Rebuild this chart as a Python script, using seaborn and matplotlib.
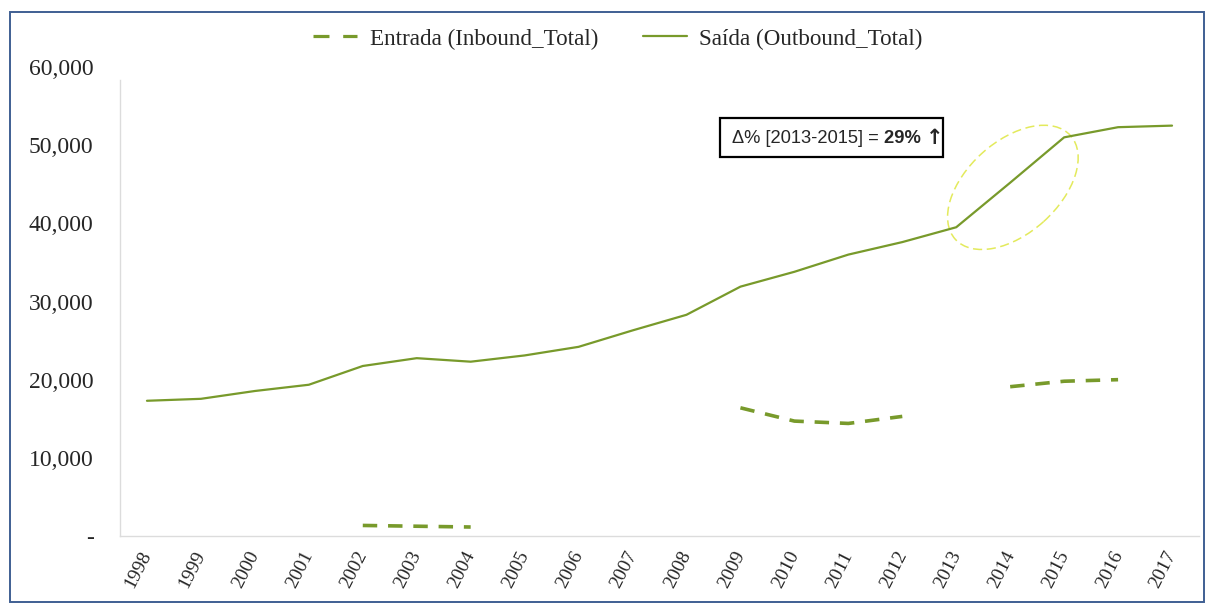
import numpy as np
import pandas as pd
import matplotlib
matplotlib.use("Agg")
import matplotlib.pyplot as plt
import matplotlib.transforms as mtransforms
from matplotlib.patches import Ellipse, Rectangle
from matplotlib.lines import Line2D
import seaborn as sns

years = list(range(1998, 2018))
outbound = [17300, 17550, 18550, 19350, 21750, 22750, 22300, 23100, 24200, 26300,
            28300, 31900, 33800, 36000, 37600, 39500, 45200, 51000, 52300, 52500]
inbound = [np.nan, np.nan, np.nan, np.nan, 1350, 1250, 1150, np.nan, np.nan, np.nan,
           np.nan, 16400, 14700, 14400, 15300, np.nan, 19100, 19800, 20000, np.nan]
yticks = [0, 10000, 20000, 30000, 40000, 50000, 60000]
label_in = "Entrada (Inbound_Total)"
label_out = "Saída (Outbound_Total)"
note_plain = "Δ% [2013-2015] = "
note_bold = "29% "
note_arrow = "↑"

GREEN = "#789a2b"

sns.set_theme(style="white")
plt.rcParams["font.family"] = ["Liberation Serif", "DejaVu Serif"]

fig = plt.figure(figsize=(12.06, 6.03), dpi=100)
ax = fig.add_axes([120 / 1206, 1 - 536 / 603, 1079 / 1206, (536 - 67) / 603])

df = pd.DataFrame({"year": years, "out": outbound, "in": inbound})

sns.lineplot(data=df, x="year", y="out", ax=ax, color=GREEN, lw=1.6)

# inbound drawn per contiguous segment so gaps stay open
mask = df["in"].notna()
seg = df["in"].isna().cumsum()
for _, part in df[mask].groupby(seg[mask]):
    sns.lineplot(data=part, x="year", y="in", ax=ax, color=GREEN, lw=2.6,
                 linestyle=(0, (4, 3)))

ax.set_xlim(years[0] - 0.5, years[-1] + 0.5)
ax.set_ylim(0, 60000)
ax.set_xticks(years)
ax.set_xticklabels([str(y) for y in years], rotation=63, ha="center",
                   fontsize=14)
ax.set_yticks(yticks)
ax.set_yticklabels(["-" if v == 0 else f"{v:,}" for v in yticks], fontsize=17)
ax.tick_params(axis="y", pad=19, length=0)
ax.tick_params(axis="x", pad=9, length=0)
shift = mtransforms.ScaledTranslation(-0.085, 0, fig.dpi_scale_trans)
for lab in ax.get_xticklabels():
    lab.set_transform(lab.get_transform() + shift)
ax.set_xlabel("")
ax.set_ylabel("")
for s in ["top", "right"]:
    ax.spines[s].set_visible(False)
for s in ["left", "bottom"]:
    ax.spines[s].set_color("#dcdcdc")
    ax.spines[s].set_linewidth(1.0)
ax.spines["left"].set_bounds(0, 58300)

# ellipse highlighting 2013-2015
tr = fig.dpi_scale_trans + mtransforms.ScaledTranslation(2014.05, 44600, ax.transData)
ell = Ellipse((0, 0), width=1.55, height=0.92, angle=42, transform=tr,
              fill=False, edgecolor="#e3ea5c", lw=1.1, linestyle=(0, (6, 3)))
ax.add_artist(ell)

# annotation box
fig.add_artist(Rectangle((720 / 1206, 1 - 157 / 603), 223 / 1206, 39 / 603,
                         transform=fig.transFigure, fill=False, edgecolor="black", lw=1.6))
t1 = fig.text(732 / 1206, 1 - 138 / 603, note_plain, fontsize=13.2,
              family=["Liberation Sans", "DejaVu Sans"], va="center", ha="left")
fig.canvas.draw()
t2 = ax.annotate(note_bold, xy=(1, 0.5), xycoords=t1, va="center", ha="left",
                 fontsize=13.2, fontweight="bold", family=["Liberation Sans", "DejaVu Sans"])
fig.canvas.draw()
ax.annotate(note_arrow, xy=(1, 0.5), xycoords=t2, va="center", ha="left",
            fontsize=15, fontweight="bold", family=["DejaVu Sans"])

# legend
handles = [Line2D([], [], color=GREEN, lw=2.3, linestyle=(0, (5, 4.3))),
           Line2D([], [], color=GREEN, lw=1.6)]
fig.legend(handles, [label_in, label_out], loc="center",
           bbox_to_anchor=(618 / 1206, 1 - 39 / 603), ncol=2, frameon=False,
           fontsize=16.7, handlelength=1.9, columnspacing=1.9, handletextpad=0.55)

# outer border
fig.add_artist(Rectangle((10 / 1206, 0.002), 1194 / 1206, 1 - 12 / 603 - 0.002,
                         transform=fig.transFigure, fill=False, edgecolor="#3f5f93", lw=1.4))

fig.savefig("out.png", dpi=100)
